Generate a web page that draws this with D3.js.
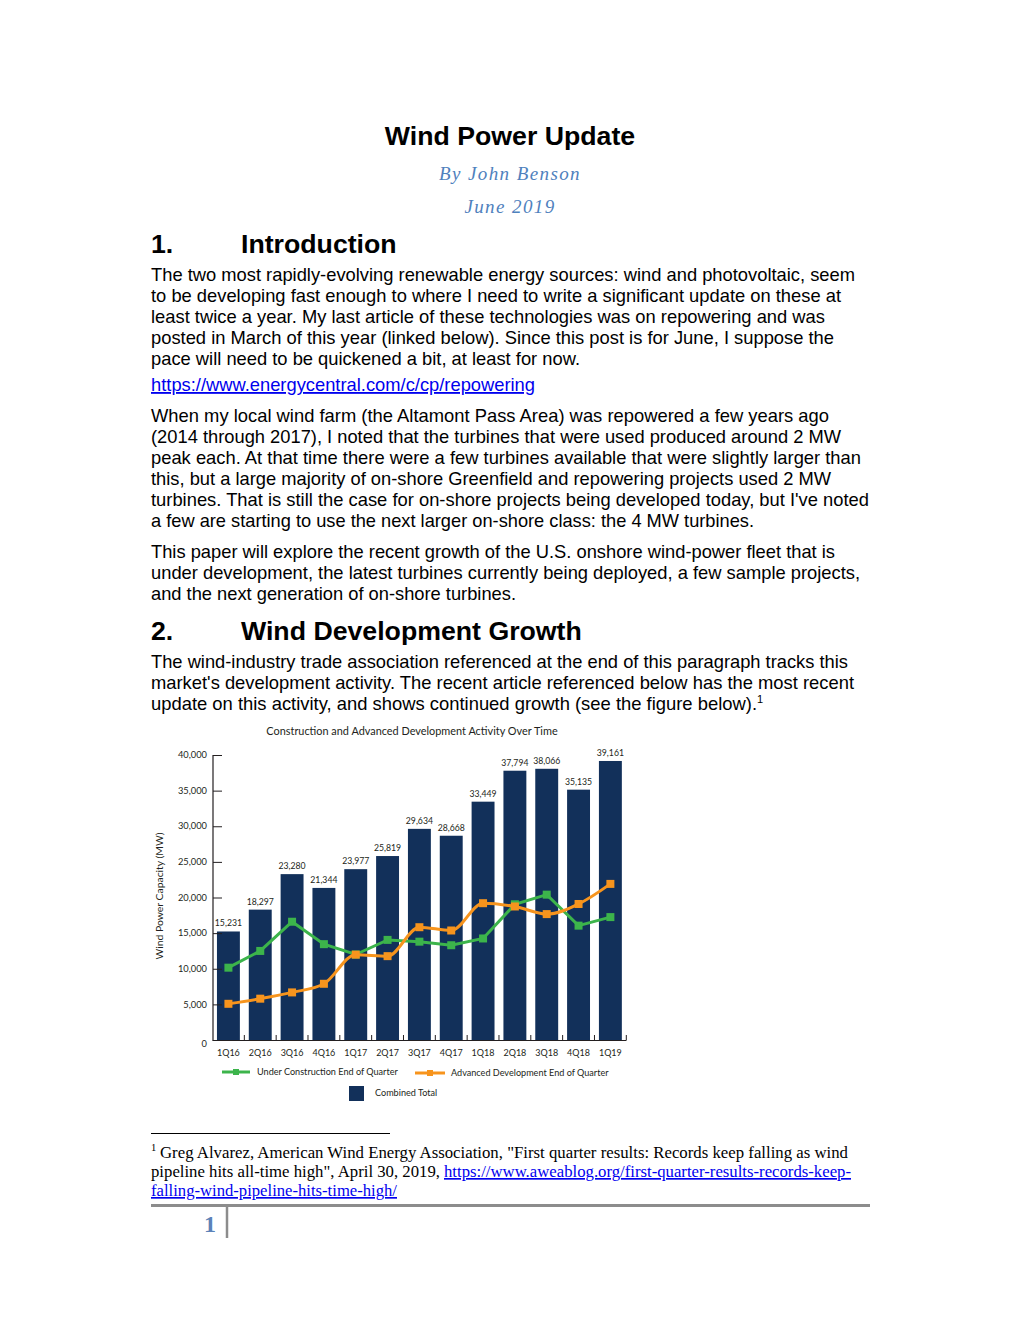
<!DOCTYPE html>
<html><head><meta charset="utf-8">
<script src="https://cdn.jsdelivr.net/npm/d3@7"></script>
<style>
html,body{margin:0;padding:0;background:#fff;}
svg{display:block;}
</style></head>
<body>
<div id="page"></div>
<script>
// ---------- chart data ----------
const quarters = ["1Q16","2Q16","3Q16","4Q16","1Q17","2Q17","3Q17","4Q17","1Q18","2Q18","3Q18","4Q18","1Q19"];
const combinedTotal = [15231,18297,23280,21344,23977,25819,29634,28668,33449,37794,38066,35135,39161];
const underConstruction = [10150,12500,16600,13450,12000,14050,13800,13300,14250,19050,20400,16050,17250];
const advancedDevelopment = [5080,5800,6680,7890,11980,11770,15830,15370,19200,18740,17670,19090,21910];
const yTicks = [0,5000,10000,15000,20000,25000,30000,35000,40000];

// ---------- document text ----------
const para1 = [
 ["The two most rapidly-evolving renewable energy sources: wind and photovoltaic, seem",855],
 ["to be developing fast enough to where I need to write a significant update on these at",841],
 ["least twice a year. My last article of these technologies was on repowering and was",825],
 ["posted in March of this year (linked below). Since this post is for June, I suppose the",834],
 ["pace will need to be quickened a bit, at least for now.",580]
];
const para2 = [
 ["When my local wind farm (the Altamont Pass Area) was repowered a few years ago",829],
 ["(2014 through 2017), I noted that the turbines that were used produced around 2 MW",841],
 ["peak each. At that time there were a few turbines available that were slightly larger than",861],
 ["this, but a large majority of on-shore Greenfield and repowering projects used 2 MW",831],
 ["turbines. That is still the case for on-shore projects being developed today, but I've noted",869],
 ["a few are starting to use the next larger on-shore class: the 4 MW turbines.",754]
];
const para3 = [
 ["This paper will explore the recent growth of the U.S. onshore wind-power fleet that is",835],
 ["under development, the latest turbines currently being deployed, a few sample projects,",860],
 ["and the next generation of on-shore turbines.",516]
];
const para4 = [
 ["The wind-industry trade association referenced at the end of this paragraph tracks this",848],
 ["market's development activity. The recent article referenced below has the most recent",854],
 ["update on this activity, and shows continued growth (see the figure below).",757]
];

const W = 1020, H = 1320;
const svg = d3.select("#page").append("svg").attr("width", W).attr("height", H);
svg.append("rect").attr("width", W).attr("height", H).attr("fill", "#fff");

const sans = "'Liberation Sans', Arial, sans-serif";
const serif = "'Liberation Serif', 'Times New Roman', serif";
const chartFont = "Lato, 'Open Sans', sans-serif";
const LEFT = 151;

// Title block
svg.append("text").attr("x", 510).attr("y", 145).attr("text-anchor","middle")
  .attr("font-family", sans).attr("font-weight","bold").attr("font-size", 26.7).attr("fill","#000")
  .text("Wind Power Update");
svg.append("text").attr("x", 510).attr("y", 180).attr("text-anchor","middle")
  .attr("font-family", serif).attr("font-style","italic").attr("font-size", 19).attr("letter-spacing", 1.4)
  .attr("fill","#4f81bd").text("By John Benson");
svg.append("text").attr("x", 510).attr("y", 213).attr("text-anchor","middle")
  .attr("font-family", serif).attr("font-style","italic").attr("font-size", 19).attr("letter-spacing", 1.4)
  .attr("fill","#4f81bd").text("June 2019");

function heading(num, label, y) {
  svg.append("text").attr("x", LEFT).attr("y", y).attr("font-family", sans).attr("font-weight","bold")
    .attr("font-size", 26.7).attr("fill","#000").text(num);
  svg.append("text").attr("x", 241).attr("y", y).attr("font-family", sans).attr("font-weight","bold")
    .attr("font-size", 26.7).attr("fill","#000").text(label);
}
function para(lines, y0) {
  lines.forEach((l, i) => {
    svg.append("text").attr("x", LEFT).attr("y", y0 + i * 21)
      .attr("font-family", sans).attr("font-size", 18.33).attr("fill", "#000")
      .attr("textLength", l[1] - LEFT).attr("lengthAdjust", "spacingAndGlyphs")
      .text(l[0]);
  });
}

heading("1.", "Introduction", 253);
para(para1, 281);
// link
svg.append("text").attr("x", LEFT).attr("y", 391).attr("font-family", sans).attr("font-size", 18.33)
  .attr("fill", "#0000ee").attr("text-decoration","underline")
  .attr("textLength", 535 - LEFT).attr("lengthAdjust","spacingAndGlyphs")
  .text("https://www.energycentral.com/c/cp/repowering");
para(para2, 422);
para(para3, 558);
heading("2.", "Wind Development Growth", 640);
para(para4, 668);
svg.append("text").attr("x", 757).attr("y", 703).attr("font-family", sans).attr("font-size", 11)
  .attr("fill","#000").text("1");

// ---------- chart ----------
const x = d3.scaleBand().domain(quarters).range([212.5, 626.3]).paddingInner(0.28).paddingOuter(0.14);
const y = d3.scaleLinear().domain([0, 40000]).range([1040, 755]);
const g = svg.append("g");
const barColor = "#12305a", green = "#3cb44b", orange = "#f7941d";

g.append("text").attr("x", 412).attr("y", 735).attr("text-anchor","middle")
  .attr("font-family", chartFont).attr("font-size", 10.9).attr("fill","#231f20")
  .text("Construction and Advanced Development Activity Over Time");

// bars
g.selectAll("rect.bar").data(quarters).join("rect").attr("class","bar")
  .attr("x", d => x(d)).attr("width", x.bandwidth())
  .attr("y", (d,i) => y(combinedTotal[i])).attr("height", (d,i) => y(0) - y(combinedTotal[i]))
  .attr("fill", barColor);

// value labels
g.selectAll("text.val").data(quarters).join("text").attr("class","val")
  .attr("x", d => x(d) + x.bandwidth()/2).attr("y", (d,i) => y(combinedTotal[i]) - 5)
  .attr("text-anchor","middle").attr("font-family", chartFont).attr("font-size", 8.7).attr("fill","#231f20")
  .text((d,i) => d3.format(",")(combinedTotal[i]));

// y axis
const yAxis = d3.axisRight(y).tickValues(yTicks).tickSize(9).tickFormat("");
const ya = g.append("g").attr("transform", "translate(213,0)").call(yAxis);
ya.select(".domain").remove();
ya.selectAll("line").attr("stroke","#231f20").attr("stroke-width",1);
g.append("line").attr("x1",213).attr("x2",213).attr("y1",755).attr("y2",1040.5).attr("stroke","#231f20").attr("stroke-width",1.2);
g.selectAll("text.ytick").data(yTicks).join("text").attr("class","ytick")
  .attr("x", 207).attr("y", d => y(d) + (d === 0 ? 7 : 3.2)).attr("text-anchor","end")
  .attr("font-family", chartFont).attr("font-size", 9.3).attr("fill","#231f20")
  .text(d => d3.format(",")(d));

// y label
g.append("text").attr("transform","translate(163,896) rotate(-90)").attr("text-anchor","middle")
  .attr("font-family", chartFont).attr("font-size", 10.4).attr("fill","#231f20")
  .text("Wind Power Capacity (MW)");

// x axis
g.append("line").attr("x1",212.5).attr("x2",626.5).attr("y1",1040.5).attr("y2",1040.5).attr("stroke","#231f20").attr("stroke-width",1.2);
const bounds = quarters.map(q => x(q) + x.bandwidth() + (x.step() - x.bandwidth())/2);
g.selectAll("line.xt").data(bounds).join("line").attr("class","xt")
  .attr("x1", d => d).attr("x2", d => d).attr("y1", 1040).attr("y2", 1035)
  .attr("stroke","#231f20").attr("stroke-width",1);
g.selectAll("text.xl").data(quarters).join("text").attr("class","xl")
  .attr("x", d => x(d) + x.bandwidth()/2).attr("y", 1056).attr("text-anchor","middle")
  .attr("font-family", chartFont).attr("font-size", 9).attr("fill","#231f20").text(d => d);

// lines
function series(vals, color, curve) {
  const line = d3.line().x((d,i) => x(quarters[i]) + x.bandwidth()/2).y(d => y(d)).curve(curve);
  g.append("path").datum(vals).attr("d", line).attr("fill","none").attr("stroke", color).attr("stroke-width", 3);
  g.selectAll(null).data(vals).join("rect")
    .attr("x", (d,i) => x(quarters[i]) + x.bandwidth()/2 - 4).attr("y", d => y(d) - 4)
    .attr("width", 8).attr("height", 8).attr("fill", color);
}
series(underConstruction, green, d3.curveLinear);
series(advancedDevelopment, orange, d3.curveMonotoneX);

// legend
function legLine(x1, x2, yy, color, label, tx) {
  g.append("line").attr("x1",x1).attr("x2",x2).attr("y1",yy).attr("y2",yy).attr("stroke",color).attr("stroke-width",3);
  g.append("rect").attr("x",(x1+x2)/2-3).attr("y",yy-3).attr("width",6).attr("height",6).attr("fill",color);
  g.append("text").attr("x",tx).attr("y",yy+3).attr("font-family",chartFont).attr("font-size",9.1)
    .attr("fill","#231f20").text(label);
}
legLine(222, 250, 1072, green, "Under Construction End of Quarter", 257);
legLine(415, 445, 1073, orange, "Advanced Development End of Quarter", 451);
g.append("rect").attr("x",349).attr("y",1086).attr("width",15).attr("height",15).attr("fill",barColor);
g.append("text").attr("x",375).attr("y",1096).attr("font-family",chartFont).attr("font-size",9.1)
  .attr("fill","#231f20").text("Combined Total");

// ---------- footnote ----------
svg.append("line").attr("x1",151).attr("x2",390).attr("y1",1133.5).attr("y2",1133.5).attr("stroke","#000").attr("stroke-width",1);
svg.append("text").attr("x",151).attr("y",1151).attr("font-family",serif).attr("font-size",10.5).attr("fill","#000").text("1");
svg.append("text").attr("x",160).attr("y",1158).attr("font-family",serif).attr("font-size",16.7).attr("fill","#000")
  .attr("textLength", 848-160).attr("lengthAdjust","spacingAndGlyphs")
  .text("Greg Alvarez, American Wind Energy Association, \"First quarter results: Records keep falling as wind");
svg.append("text").attr("x",151).attr("y",1177).attr("font-family",serif).attr("font-size",16.7).attr("fill","#000")
  .attr("textLength", 440-151).attr("lengthAdjust","spacingAndGlyphs")
  .text("pipeline hits all-time high\", April 30, 2019,");
svg.append("text").attr("x",444).attr("y",1177).attr("font-family",serif).attr("font-size",16.7).attr("fill","#0000ee")
  .attr("text-decoration","underline").attr("textLength", 851-444).attr("lengthAdjust","spacingAndGlyphs")
  .text("https://www.aweablog.org/first-quarter-results-records-keep-");
svg.append("text").attr("x",151).attr("y",1196).attr("font-family",serif).attr("font-size",16.7).attr("fill","#0000ee")
  .attr("text-decoration","underline").attr("textLength", 397-151).attr("lengthAdjust","spacingAndGlyphs")
  .text("falling-wind-pipeline-hits-time-high/");

// page footer
svg.append("line").attr("x1",151).attr("x2",870).attr("y1",1205.5).attr("y2",1205.5).attr("stroke","#8c8c8c").attr("stroke-width",3);
svg.append("line").attr("x1",227).attr("x2",227).attr("y1",1205).attr("y2",1238).attr("stroke","#8c8c8c").attr("stroke-width",2.5);
svg.append("text").attr("x",216).attr("y",1232).attr("text-anchor","end").attr("font-family",serif).attr("font-weight","bold")
  .attr("font-size",24).attr("fill","#5b82b8").text("1");
</script>
</body></html>
